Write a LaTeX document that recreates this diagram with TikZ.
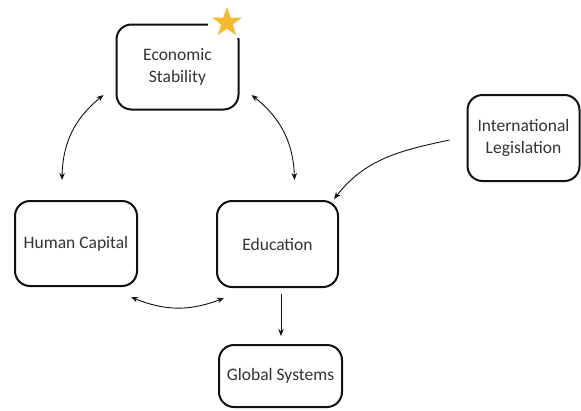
\documentclass[tikz,border=0pt]{standalone}
\usepackage{fontspec}
\setmainfont{Carlito}
\usetikzlibrary{arrows.meta}
\definecolor{txt}{HTML}{333333}
\definecolor{edge}{HTML}{111111}
\definecolor{gold}{HTML}{F5BA2E}
\tikzset{
  box/.style={draw=edge, line width=2pt, rounded corners=15pt, fill=white,
    text=txt, align=center, font=\fontsize{17.5}{22}\selectfont, inner sep=0pt},
  link/.style={draw=edge, line width=0.9pt, -{Stealth[length=7pt,width=5.5pt]}},
  blink/.style={draw=edge, line width=0.9pt, {Stealth[length=7pt,width=5.5pt]}-{Stealth[length=7pt,width=5.5pt]}}
}
\begin{document}
\begin{tikzpicture}[x=1pt,y=1pt]
\useasboundingbox (0,0) rectangle (581,-410);
\node[box, minimum width=122pt, minimum height=85pt] (es) at (177.5,-67) {Economic\\Stability};
\node[box, minimum width=122pt, minimum height=85pt] (hc) at (76,-243.5) {Human Capital};
\node[box, minimum width=121pt, minimum height=86pt] (ed) at (277.5,-244) {Education};
\node[box, minimum width=112pt, minimum height=86pt] (il) at (523.5,-138) {International\\Legislation};
\node[box, minimum width=123pt, minimum height=62pt] (gs) at (280.5,-376) {Global Systems};
% star with its white backing
\coordinate (st) at (227,-22.5);
\fill[white] (208,-2) rectangle (246,-38);
\fill[gold] ([shift={(90:15.5)}]st) -- ([shift={(126:6.2)}]st) -- ([shift={(162:15.5)}]st)
  -- ([shift={(198:6.2)}]st) -- ([shift={(234:15.5)}]st) -- ([shift={(270:6.2)}]st)
  -- ([shift={(306:15.5)}]st) -- ([shift={(342:6.2)}]st) -- ([shift={(18:15.5)}]st)
  -- ([shift={(54:6.2)}]st) -- cycle;
\draw[blink] ([shift={(-12,-28)}]es.west) to[bend right=25] ([shift={(-14,20)}]hc.north);
\draw[blink] ([shift={(12,-28)}]es.east) to[bend left=25] ([shift={(17,20)}]ed.north);
\draw[blink] ([shift={(-7,-10)}]hc.south east) to[bend right=22] ([shift={(8,-10)}]ed.south west);
\draw[link] ([shift={(3.5,-6)}]ed.south) -- ([shift={(0.5,8)}]gs.north);
\draw[link] ([shift={(-17,-2)}]il.west) to[out=192,in=52] ([shift={(-5,1)}]ed.north east);
\end{tikzpicture}
\end{document}
